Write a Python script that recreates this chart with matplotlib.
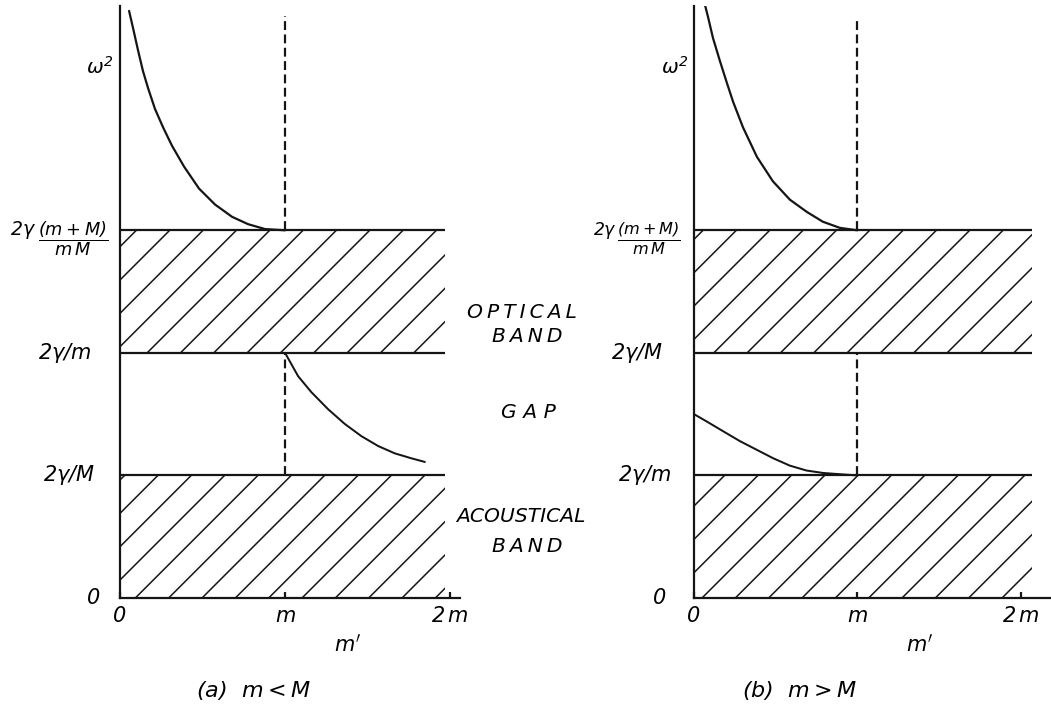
import matplotlib
matplotlib.use("Agg")
import matplotlib.pyplot as plt

# -------------------------------
# Data (omega^2 in units of 2*gamma/M_big, m' in units of m)
# -------------------------------
band_levels = [0, 1, 2, 3]

# (a) m < M
a_ylabels = ["0", r"$2\gamma/M$", r"$2\gamma/m$"]
a_opt_x = [0.055, 0.079, 0.109, 0.139, 0.170, 0.212, 0.261, 0.315, 0.388, 0.479,
           0.576, 0.679, 0.776, 0.879, 1.0]
a_opt_y = [4.79, 4.65, 4.47, 4.30, 4.16, 3.99, 3.84, 3.69, 3.52, 3.34,
           3.21, 3.11, 3.05, 3.01, 3.0]
a_gap_x = [1.0, 1.079, 1.159, 1.261, 1.362, 1.463, 1.564, 1.665, 1.765, 1.847]
a_gap_y = [2.0, 1.81, 1.68, 1.54, 1.42, 1.32, 1.24, 1.18, 1.14, 1.11]

# (b) m > M
b_ylabels = ["0", r"$2\gamma/m$", r"$2\gamma/M$"]
b_opt_x = [0.067, 0.086, 0.116, 0.159, 0.202, 0.239, 0.300, 0.385, 0.483, 0.587,
           0.691, 0.789, 0.893, 1.0]
b_opt_y = [4.84, 4.74, 4.57, 4.38, 4.20, 4.05, 3.84, 3.60, 3.40, 3.25,
           3.15, 3.07, 3.02, 3.0]
b_gap_x = [0, 0.078, 0.179, 0.281, 0.383, 0.485, 0.587, 0.689, 0.791, 0.893, 1.0]
b_gap_y = [1.50, 1.44, 1.36, 1.28, 1.21, 1.14, 1.08, 1.04, 1.02, 1.01, 1.0]

top_frac = r"$\dfrac{(m+M)}{m\,M}$"
xlabels = ["0", "$m$", "$2\\,m$"]

# -------------------------------
# Style
# -------------------------------
plt.rcParams["mathtext.fontset"] = "dejavusans"
plt.rcParams["font.family"] = "DejaVu Sans"
plt.rcParams["font.style"] = "italic"
plt.rcParams["hatch.linewidth"] = 0.55
INK = "#151515"
LW = 0.8
DASH = (0, (4, 2))
TS = "\u2009"  # thin space for the spaced hand lettering

fig = plt.figure(figsize=(5.255, 3.53), dpi=200)
fig.patch.set_facecolor("white")

W, H = 1051.0, 706.0
ax_a = fig.add_axes([120 / W, 108 / H, 340 / W, 592 / H])
ax_b = fig.add_axes([694 / W, 108 / H, 356 / W, 592 / H])


def draw_panel(ax, xmax, band_end, opt_x, opt_y, gap_x, gap_y, ylabels,
               ylab_x, top_x, top_fs, dash_top):
    ax.set_xlim(0, xmax)
    ax.set_ylim(0, 4.83)
    ax.set_facecolor("none")
    for s in ["top", "right"]:
        ax.spines[s].set_visible(False)
    for s in ["left", "bottom"]:
        ax.spines[s].set_linewidth(LW)
        ax.spines[s].set_color(INK)

    # hatched bands
    for lo, hi in [(band_levels[0], band_levels[1]), (band_levels[2], band_levels[3])]:
        ax.fill_between([0, band_end], lo, hi, hatch="//", facecolor="none",
                        edgecolor=INK, linewidth=0)
    ax.hlines(band_levels[1:], 0, band_end, color=INK, lw=LW)

    # curves
    ax.plot(opt_x, opt_y, color=INK, lw=LW, solid_capstyle="round", solid_joinstyle="round")
    ax.plot(gap_x, gap_y, color=INK, lw=LW * 0.9, solid_capstyle="round", solid_joinstyle="round")

    # dashed verticals at m' = m
    ax.plot([1, 1], [band_levels[3], dash_top], color=INK, lw=LW, ls=DASH)
    ax.plot([1, 1], [band_levels[1], band_levels[2]], color=INK, lw=LW, ls=DASH)

    # ticks
    ax.set_xticks([0, 1, 2])
    ax.set_xticklabels(xlabels, fontsize=7.5)
    ax.tick_params(axis="x", direction="in", length=2.2, width=LW, pad=3, color=INK)
    ax.set_yticks([])

    for lvl, lab, dx in zip(band_levels, ylabels, ylab_x):
        ax.text(dx, lvl, lab, ha="right", va="center", fontsize=7.5, clip_on=False)
    # 2γ (m+M)/mM label, hand-lettered as a prefix and a fraction
    ax.text(top_x[0], 3.0, r"$2\gamma$", ha="left", va="center", fontsize=top_fs + 0.4, clip_on=False)
    ax.text(top_x[1], 2.93, top_frac, ha="left", va="center", fontsize=top_fs, clip_on=False)
    ax.text(-0.12, 4.33, r"$\omega^2$", ha="center", va="center", fontsize=7.2, clip_on=False)
    ax.text(1.38, -0.38, r"$m'$", ha="center", va="center", fontsize=7.5, clip_on=False)


draw_panel(ax_a, 2.06, 1.97, a_opt_x, a_opt_y, a_gap_x, a_gap_y, a_ylabels,
           [-0.12, -0.15, -0.17], [(10 - 120) / 165, (38 - 120) / 165], 6.4, 4.75)
draw_panel(ax_b, 2.18, 2.07, b_opt_x, b_opt_y, b_gap_x, b_gap_y, b_ylabels,
           [-0.17, -0.14, -0.19], [(593 - 694) / 163.5, (617 - 694) / 163.5], 5.8, 4.73)

# middle labels
mid = dict(ha="center", va="center", fontsize=7.3, style="italic")
fig.text(522 / W, 1 - 313 / H, TS.join("OPTICAL"), **mid)
fig.text(527 / W, 1 - 336 / H, TS.join("BAND"), **mid)
fig.text(528 / W, 1 - 412 / H, " ".join("GAP"), **mid)
fig.text(521 / W, 1 - 516 / H, "ACOUSTICAL", **mid)
fig.text(527 / W, 1 - 547 / H, TS.join("BAND"), **mid)

# captions
fig.text(253 / W, 1 - 690 / H, r"(a)  $m < M$", ha="center", va="center", fontsize=8)
fig.text(800 / W, 1 - 690 / H, r"(b)  $m > M$", ha="center", va="center", fontsize=8)

fig.savefig("out.png", dpi=200, facecolor="white")
